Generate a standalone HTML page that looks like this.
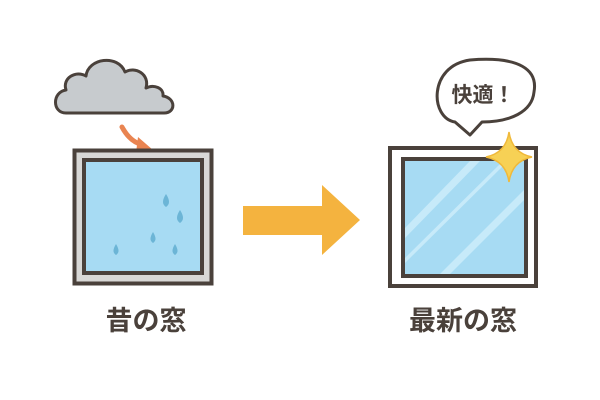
<!DOCTYPE html>
<html><head><meta charset="utf-8"><style>
html,body{margin:0;padding:0;background:#fff;width:600px;height:400px;overflow:hidden}
</style></head><body>
<svg width="600" height="400" viewBox="0 0 600 400" xmlns="http://www.w3.org/2000/svg">
<path d="M66 113 C52 113 52 92 66 90 C62 78 76 70 86 76 C88 58 118 54 125 72 C135 66 150 74 146 88 C154 84 164 88 163 96 C176 98 176 113 164 113 Z" fill="#c7cbce" stroke="#4a413b" stroke-width="3" stroke-linejoin="round"/>
<path d="M122 127 Q130 142 143 145" fill="none" stroke="#e98451" stroke-width="5" stroke-linecap="round"/>
<polygon points="138,137 153,150 136,153" fill="#e98451"/>
<rect x="74.5" y="150.5" width="137" height="133" fill="#d8d8d6" stroke="#4a413b" stroke-width="4"/>
<rect x="84" y="160" width="118" height="113" fill="#a7dbf3" stroke="#4a413b" stroke-width="4"/>
<g fill="#6cb5d6">
<path d="M166 194 q-6 9 0 13 q6 -4 0 -13z"/>
<path d="M180 210 q-6 9 0 13 q6 -4 0 -13z"/>
<path d="M153 232 q-5 8 0 11 q5 -3 0 -11z"/>
<path d="M175 244 q-5 8 0 11 q5 -3 0 -11z"/>
<path d="M116 244 q-5 8 0 11 q5 -3 0 -11z"/>
</g>
<polygon points="243,206 322,206 322,185 360,220 322,255 322,235 243,235" fill="#f4b33f"/>
<rect x="390" y="148" width="146" height="138" fill="#fff" stroke="#4a413b" stroke-width="4"/>
<rect x="403" y="159" width="123" height="117" fill="#a7dbf3" stroke="#4a413b" stroke-width="4"/>
<g fill="#cfeefb" opacity="0.8">
<polygon points="405,228 470,161 480,161 405,238"/>
<polygon points="405,258 503,161 508,161 405,263"/>
<polygon points="440,274 524,190 524,200 450,274"/>
</g>
<path d="M455 122 C430 118 428 66 470 60 C520 56 538 70 534 92 C532 112 510 122 482 122 L470 135 Z" fill="#fff" stroke="#4a413b" stroke-width="3" stroke-linejoin="round"/>
<text x="483" y="102" text-anchor="middle" font-family="'Liberation Sans','Noto Sans CJK JP',sans-serif" font-weight="bold" font-size="21" fill="#4a413b">快適！</text>
<path d="M509 132 Q512 153 532 157 Q512 161 509 182 Q506 161 486 157 Q506 153 509 132Z" fill="#f7d155" stroke="#f0b93a" stroke-width="1.5"/>
<text x="146" y="330" text-anchor="middle" font-family="'Liberation Sans','Noto Sans CJK JP',sans-serif" font-weight="bold" font-size="27" fill="#4a413b">昔の窓</text>
<text x="463" y="330" text-anchor="middle" font-family="'Liberation Sans','Noto Sans CJK JP',sans-serif" font-weight="bold" font-size="27" fill="#4a413b">最新の窓</text>
</svg>
</body></html>
